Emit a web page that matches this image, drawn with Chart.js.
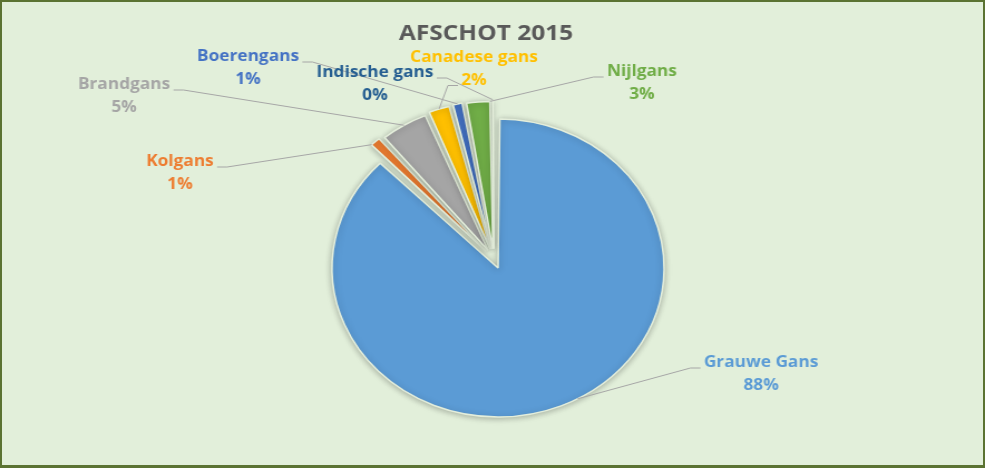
<!DOCTYPE html>
<html>
<head>
<meta charset="utf-8">
<script src="https://cdn.jsdelivr.net/npm/chart.js@4"></script>
<style>
html,body{margin:0;padding:0;background:#ffffff;}
#frame{position:absolute;left:0;top:0;width:985px;height:468px;box-sizing:border-box;background:#e2efda;border:2px solid #5b7332;border-bottom-width:3px;}
#wrap{position:absolute;left:0;top:0;width:884px;height:468px;transform:scaleX(1.11425);transform-origin:0 0;}
canvas{display:block;}
</style>
</head>
<body>
<div id="frame"></div>
<div id="wrap"><canvas id="c" width="884" height="468"></canvas></div>
<script>
// ---- data ----
const chartTitle = 'AFSCHOT 2015';
const categories = ['Grauwe Gans', 'Kolgans', 'Brandgans', 'Canadese gans', 'Boerengans', 'Nijlgans', 'Indische gans'];
const values = [87.6, 1.3, 4.9, 2.3, 1.2, 2.55, 0.15];

// ---- style ----
const sliceColors = ['#5B9BD5', '#ED7D31', '#A5A5A5', '#FFC000', '#4472C4', '#70AD47', '#255E91'];
const labelColors = ['#5B9BD5', '#ED7D31', '#A5A5A5', '#FFC000', '#4472C4', '#70AD47', '#255E91'];
const TITLE_FONT = 'bold 22px "Open Sans"';
const LABEL_FONT = 'bold 15.5px "Open Sans"';
// label layout: centre of first text line, which side/line the leader starts from, where on the slice it ends
const labelLayout = [
  {x: 683,   y: 363, side: 'left',  line: 0, t: 0.48},
  {x: 161.5, y: 162, side: 'right', line: 0, t: 0.15},
  {x: 111.3, y: 85,  side: 'right', line: 0, t: 0.5},
  {x: 425.4, y: 58,  side: 'left',  line: 1, t: 0.5},
  {x: 222.6, y: 57,  side: 'right', line: 0, t: 0.5},
  {x: 576.1, y: 72,  side: 'left',  line: 0, t: 0.95},
  {x: 336.5, y: 73,  side: 'right', line: 0, t: 0.5}
];
const LINE_GAP = 22.5;

const shadowPlugin = {
  id: 'sliceShadow',
  beforeDatasetsDraw(chart) {
    const ctx = chart.ctx;
    ctx.save();
    ctx.shadowColor = 'rgba(0,0,0,0.28)';
    ctx.shadowBlur = 6;
    ctx.shadowOffsetX = 0;
    ctx.shadowOffsetY = 1;
  },
  afterDatasetsDraw(chart) {
    chart.ctx.restore();
  }
};

const labelPlugin = {
  id: 'outsideLabels',
  afterDraw(chart) {
    const ctx = chart.ctx;
    const meta = chart.getDatasetMeta(0);
    const total = values.reduce((a, b) => a + b, 0);
    ctx.save();
    ctx.textAlign = 'center';
    ctx.textBaseline = 'middle';
    ctx.font = TITLE_FONT;
    ctx.fillStyle = '#595959';
    ctx.fillText(chartTitle, 436.2, 34);

    meta.data.forEach((arc, i) => {
      const L = labelLayout[i];
      const p = arc.getProps(['x', 'y', 'startAngle', 'endAngle', 'outerRadius'], true);
      const off = (arc.options.offset || 0) / 4;
      const circ = p.endAngle - p.startAngle;
      const half = (p.startAngle + p.endAngle) / 2;
      const fix = 1 - Math.sin(Math.min(Math.PI, circ || 0));
      const r = p.outerRadius + off * fix;
      const a = p.startAngle + L.t * circ;
      const ex = p.x + Math.cos(half) * off + Math.cos(a) * r;
      const ey = p.y + Math.sin(half) * off + Math.sin(a) * r;

      const pct = Math.round(values[i] / total * 100) + '%';
      const lines = [categories[i], pct];
      const ys = [L.y, L.y + LINE_GAP];
      ctx.font = LABEL_FONT;
      const w = ctx.measureText(lines[L.line]).width;
      const ly = ys[L.line] + 5;
      let sx, hx;
      if (L.side === 'left') { sx = L.x - w / 2 - 3; hx = sx - 9; }
      else { sx = L.x + w / 2 + 3; hx = sx + 9; }
      ctx.strokeStyle = '#a6a6a6';
      ctx.lineWidth = 1;
      ctx.beginPath();
      ctx.moveTo(sx, ly);
      ctx.lineTo(hx, ly);
      ctx.lineTo(ex, ey);
      ctx.stroke();

      ctx.fillStyle = labelColors[i];
      ctx.fillText(lines[0], L.x, ys[0]);
      ctx.fillText(lines[1], L.x, ys[1]);
    });
    ctx.restore();
  }
};

new Chart(document.getElementById('c'), {
  type: 'pie',
  data: {
    labels: categories,
    datasets: [{
      data: values,
      backgroundColor: sliceColors,
      borderColor: '#e4eedb',
      borderWidth: 1.5,
      offset: 40,
      radius: 139
    }]
  },
  options: {
    responsive: false,
    animation: false,
    events: [],
    layout: {padding: {left: 2.4, right: 0, top: 49.5, bottom: 0}},
    plugins: {
      legend: {display: false},
      tooltip: {enabled: false},
      title: {display: false}
    }
  },
  plugins: [shadowPlugin, labelPlugin]
});
</script>
</body>
</html>
